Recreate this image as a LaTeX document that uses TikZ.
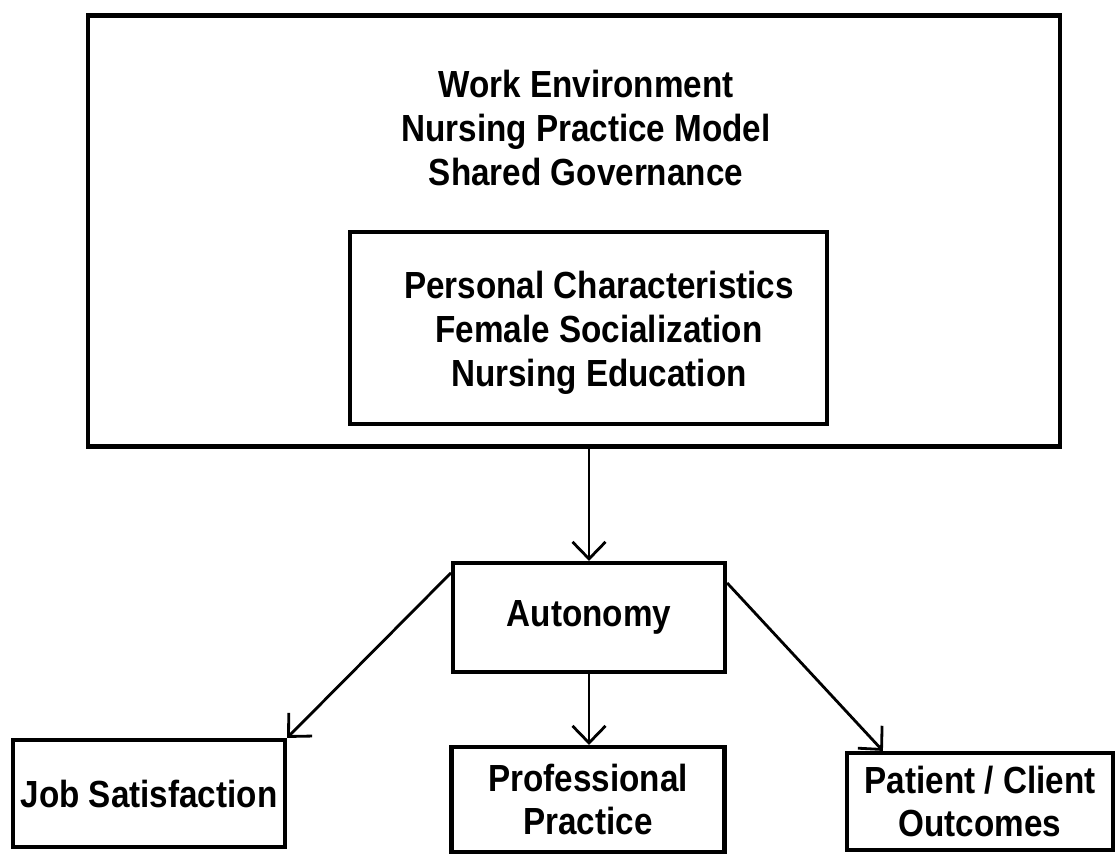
\documentclass[tikz,border=0pt]{standalone}
\usepackage{fontspec}
\setmainfont{Liberation Sans}[FakeStretch=0.88]
\usetikzlibrary{arrows.meta,positioning}

\tikzset{
  box/.style={draw,rectangle,line width=2.4pt,inner sep=0pt},
  smallbox/.style={box,minimum width=5.44cm,minimum height=2.14cm,align=center},
  words/.style={align=center,font=\fontsize{21.5}{25}\selectfont\bfseries},
  link/.style={-{Straight Barb[length=3.4mm,width=6.6mm]},line width=1.6pt}
}

\begin{document}
\begin{tikzpicture}[x=0.02cm,y=-0.02cm,every node/.append style={words}]
\useasboundingbox (0,0) rectangle (1115,860);
% upper block
\node[box,minimum width=19.44cm,minimum height=8.62cm] (env) at (574,231) {};
\node (envtext) at (586,128) {Work Environment\\Nursing Practice Model\\Shared Governance};
\node[box,minimum width=9.54cm,minimum height=3.84cm] (pers) at (588.5,328) {};
\node (perstext) at (599,333) {Personal Characteristics\\Female Socialization\\Nursing Education};
% lower block
\node[smallbox,minimum height=2.18cm] (aut) at (589,617.5) {Autonomy};
\node[smallbox] (job) at (149,793.5) {Job Satisfaction};
\node[smallbox,minimum width=5.46cm,minimum height=2.1cm] (prof) at (588,799.5) {Professional\\Practice};
\node[smallbox,minimum width=5.32cm,minimum height=1.94cm] (pat) at (980,801.5) {Patient / Client\\Outcomes};

\draw[link] (aut.north |- env.south) -- (aut.north);
\draw[link] ([yshift=-0.24cm]aut.north west) -- (job.north east);
\draw[link] (aut.south) -- (aut.south |- prof.north);
\draw[link] ([yshift=-0.44cm]aut.north east) -- ([xshift=0.76cm]pat.north west);
\end{tikzpicture}
\end{document}
